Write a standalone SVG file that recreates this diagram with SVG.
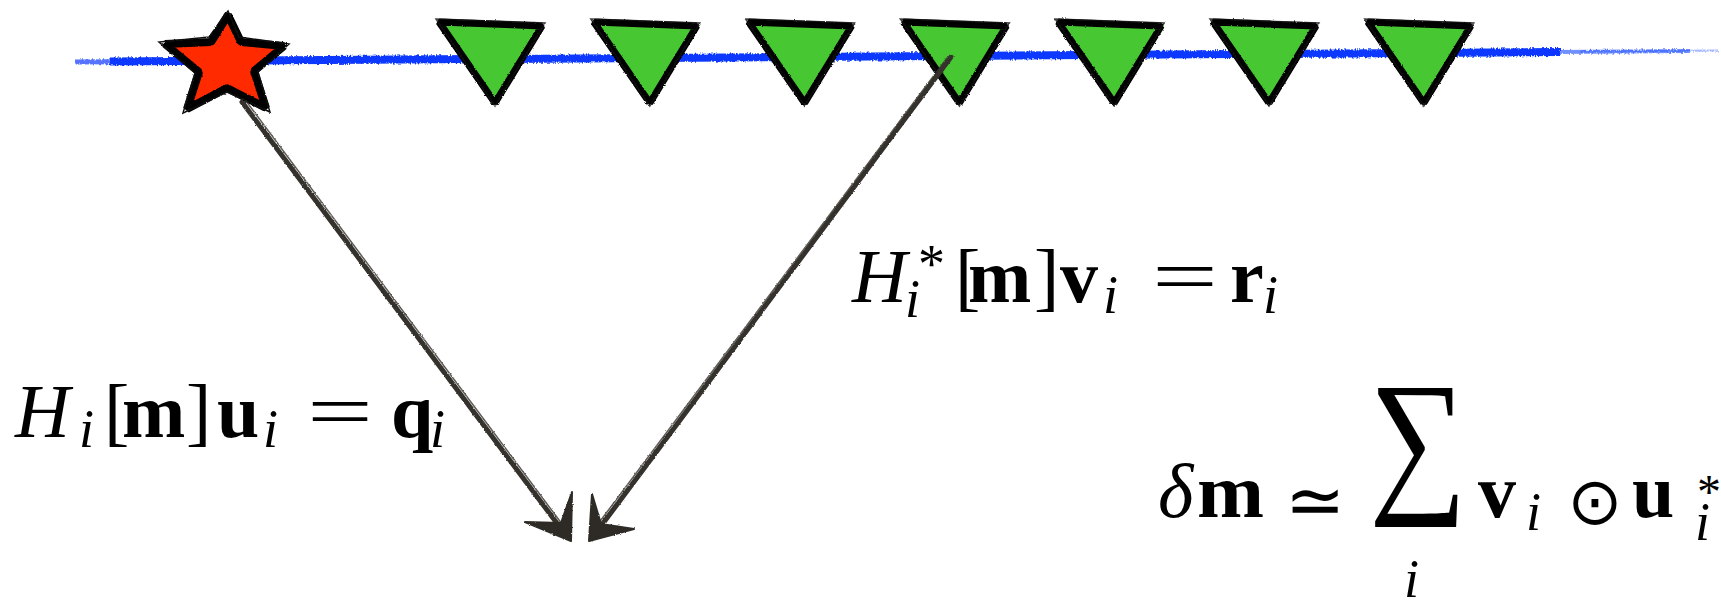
<svg xmlns="http://www.w3.org/2000/svg" width="1721" height="603" viewBox="0 0 1721 603">
  <style>
    .math { font-family: "Liberation Serif", "DejaVu Serif", serif; fill: #000; }
    .sym { font-family: "DejaVu Sans", "Liberation Serif", sans-serif; }
    .it { font-style: italic; }
    .bf { font-weight: bold; }
    .sub { font-size: 54px; font-style: italic; }
    .big { font-size: 76px; }
    .rx { fill: #46c733; stroke: #000; stroke-width: 7; stroke-linejoin: bevel; }
    .rx2 { fill: none; stroke: #111; stroke-width: 1.5; opacity: 0.8; }
    .star { fill: #ff2a00; stroke: #000; stroke-width: 8; stroke-linejoin: bevel; }
    .shaft { fill: none; stroke: #36322d; stroke-linecap: round; }
    .head { fill: #2f2b27; stroke: #2f2b27; stroke-width: 2; stroke-linejoin: round; }
  </style>
  <defs>
    <filter id="rough" x="-10%" y="-10%" width="120%" height="120%">
      <feTurbulence type="fractalNoise" baseFrequency="0.9" numOctaves="1" seed="3" result="n"/>
      <feDisplacementMap in="SourceGraphic" in2="n" scale="2.5" xChannelSelector="R" yChannelSelector="G"/>
    </filter>
    <filter id="roughBlue" x="-2%" y="-200%" width="104%" height="500%">
      <feTurbulence type="fractalNoise" baseFrequency="0.6 0.3" numOctaves="2" seed="7" result="n"/>
      <feDisplacementMap in="SourceGraphic" in2="n" scale="4" xChannelSelector="R" yChannelSelector="G"/>
    </filter>
    <g id="tri">
      <polygon class="rx" points="439,22 542,26 495,103"/>
      <polygon class="rx2" points="436,19 545,23 495,106"/>
    </g>
  </defs>

  <rect width="1721" height="603" fill="#fff"/>

  <!-- surface line -->
  <g id="surface" filter="url(#roughBlue)">
    <path d="M 110 61.5 L 1560 52" fill="none" stroke="#0a37ff" stroke-width="8"/>
    <path d="M 75 62 L 300 60.5" fill="none" stroke="#0a37ff" stroke-width="5" opacity="0.7"/>
    <path d="M 1500 52.5 L 1690 51" fill="none" stroke="#0a37ff" stroke-width="4" opacity="0.55"/>
    <path d="M 1580 51.5 L 1718 50.5" fill="none" stroke="#0a37ff" stroke-width="2" opacity="0.35"/>
  </g>

  <!-- source -->
  <g id="source" filter="url(#rough)">
    <polygon class="star" points="228,15 241,42 284,46 254,71 266,108 227,88 187,109 199,72 165,44 211,42"/>
    <polygon fill="none" stroke="#111" stroke-width="1.5" points="228,11 239,37 289,44 258,72 270,112 227,92 183,113 195,73 159,42 209,37"/>
  </g>

  <!-- receivers -->
  <g id="receiver-1" filter="url(#rough)"><use href="#tri"/></g>
  <g id="receiver-2" filter="url(#rough)"><use href="#tri" transform="translate(154.8,0)"/></g>
  <g id="receiver-3" filter="url(#rough)"><use href="#tri" transform="translate(309.6,0)"/></g>
  <g id="receiver-4" filter="url(#rough)"><use href="#tri" transform="translate(464.4,0)"/></g>
  <g id="receiver-5" filter="url(#rough)"><use href="#tri" transform="translate(619.2,0)"/></g>
  <g id="receiver-6" filter="url(#rough)"><use href="#tri" transform="translate(774,0)"/></g>
  <g id="receiver-7" filter="url(#rough)"><use href="#tri" transform="translate(928.8,0)"/></g>

  <!-- connectors -->
  <g id="connectors" filter="url(#rough)">
    <g id="conn-forward">
      <path class="shaft" d="M 242 102 L 562 530" stroke-width="5"/>
      <path class="shaft" d="M 246 101 L 565 528" stroke-width="1.5" opacity="0.8"/>
      <polygon class="head" points="571,541 572,492 561,523 525,522"/>
    </g>
    <g id="conn-adjoint">
      <path class="shaft" d="M 951 57 L 598 530" stroke-width="5"/>
      <path class="shaft" d="M 947 58 L 595 528" stroke-width="1.5" opacity="0.8"/>
      <polygon class="head" points="589,541 592,494 601,524 634,529"/>
    </g>
  </g>

  <!-- label: forward equation -->
  <g id="label-forward" class="math">
    <text class="big it" x="15" y="437">H</text>
    <text class="sub" x="79" y="447">i</text>
    <text class="big" x="104" y="437">[</text>
    <text class="big bf" x="122" y="437">m</text>
    <text class="big" x="186" y="437">]</text>
    <text class="big bf" x="217" y="437">u</text>
    <text class="sub" x="263" y="447">i</text>
    <text class="big" x="307" y="437" textLength="66" lengthAdjust="spacingAndGlyphs">=</text>
    <text class="big bf" x="391" y="437">q</text>
    <text class="sub" x="430" y="447">i</text>
  </g>

  <!-- label: adjoint equation -->
  <g id="label-adjoint" class="math">
    <text class="big it" x="852" y="302">H</text>
    <text x="918" y="282" font-size="54">*</text>
    <text class="sub" x="905" y="317">i</text>
    <text class="big" x="955" y="302">[</text>
    <text class="big bf" x="968" y="302">m</text>
    <text class="big" x="1034" y="302">]</text>
    <text class="big bf" x="1060" y="302">v</text>
    <text class="sub" x="1103" y="313">i</text>
    <text class="big" x="1152" y="302" textLength="66" lengthAdjust="spacingAndGlyphs">=</text>
    <text class="big bf" x="1230" y="302">r</text>
    <text class="sub" x="1263" y="313">i</text>
  </g>

  <!-- label: gradient -->
  <g id="label-gradient" class="math">
    <text class="big it" x="1158" y="517">δ</text>
    <text class="big bf" x="1197" y="517" textLength="67" lengthAdjust="spacingAndGlyphs">m</text>
    <text class="sym" x="1315" y="525" font-size="72" text-anchor="middle">≃</text>
    <text x="1369" y="493" font-size="160" textLength="98" lengthAdjust="spacingAndGlyphs">∑</text>
    <text class="sub" x="1404" y="597">i</text>
    <text class="big bf" x="1478" y="517">v</text>
    <text class="sub" x="1526" y="530">i</text>
    <text class="sym" x="1595" y="524" font-size="66" text-anchor="middle">⊙</text>
    <text class="big bf" x="1632" y="517">u</text>
    <text x="1697" y="508" font-size="48">*</text>
    <text class="sub" x="1695" y="540">i</text>
  </g>
</svg>
